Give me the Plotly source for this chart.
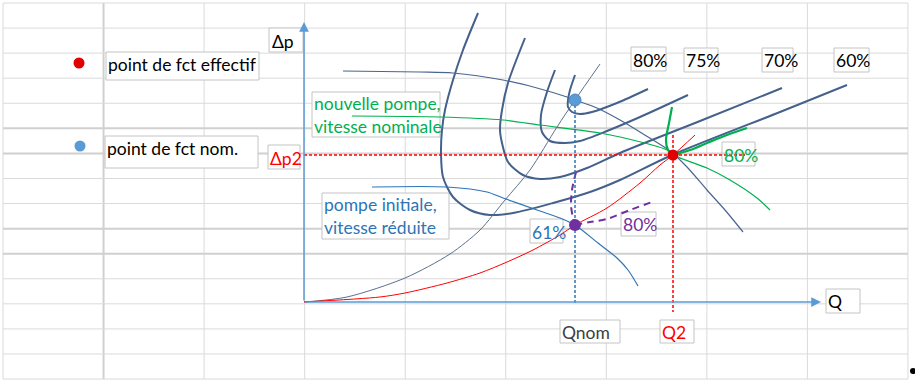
import plotly.graph_objects as go

# ---------------- data (diagram units: Q to the right, dp upwards, origin at axes crossing)
# efficiency iso-curves of the pump family
iso60_q  = [174,159,149,141,138,137,139,149,166,186,209,249,286,316,368,476,543]
iso60_dp = [289,252,222,192,172,149,125,105,92,87,89,99,110,122,147,190,217]
iso70_q  = [221,204,198,196,198,204,219,236,256,283,316,396,478]
iso70_dp = [264,219,192,172,159,140,127,123,125,134,149,181,214]
iso75_q  = [251,243,237,238,246,261,276,303,336,384]
iso75_dp = [232,210,187,170,161,159,161,171,185,207]
iso80_q  = [271,266,264,264,268,276,288,313,344]
iso80_dp = [227,212,202,195,190,188,190,199,213]
iso_labels = ["80%", "75%", "70%", "60%"]

# pump characteristic curves
pump_nom_q  = [39,116,149,199,233,263,271,293,316,336,366,383,403,421,439]
pump_nom_dp = [231,230,229,222,214,205,202,194,182,170,151,135,112,92,70]
pump_new_q  = [48,136,199,236,296,316,363,369,403,426,453,466]
pump_new_dp = [186,185,182,177,169,165,152,147,134,122,104,92]
pump_red_q  = [68,143,183,199,233,256,271,294,313,324,334]
pump_red_dp = [115,115,110,104,92,84,77,59,44,32,16]

# system (network) curves
sys_nom_q  = [0,43,101,146,176,201,226,253,271,296]
sys_nom_dp = [0,5,24,48,72,102,132,175,202,238]
sys_eff_q  = [0,76,101,143,176,203,229,256,271,303,336,356,369,391]
sys_eff_dp = [0,5,9,19,29,40,52,67,77,94,119,137,147,167]

# local 80 % iso-efficiency pieces
iso80_red_up_q  = [272,268,267,269,271]
iso80_red_up_dp = [130,112,97,84,77]
iso80_red_rt_q  = [271,286,303,326,348]
iso80_red_rt_dp = [77,80,83,92,100]
iso80_new_a_q  = [368,365,362,364,369]
iso80_new_a_dp = [195,179,162,152,147]
iso80_new_b_q  = [369,386,403,423,443]
iso80_new_b_dp = [147,152,159,167,174]

# operating points
pt_nom = (271, 202)    # nominal point
pt_red = (271, 77)     # initial pump, reduced speed
pt_eff = (369, 147)    # effective point (Q2, dp2)

# ---------------- helpers: screen pixel -> diagram units (1 unit = 1 px)
OX, OY = 304, 302
def X(px): return px - OX
def Y(py): return OY - py

FONT = "Lato"
FS = 17.5
SLATE = "#44618c"
fig = go.Figure()

def curve(q, dp, color, width, dash=None, smooth=0.8):
    fig.add_trace(go.Scatter(x=q, y=dp, mode="lines", hoverinfo="skip",
                             line=dict(color=color, width=width, dash=dash,
                                       shape="spline", smoothing=smooth)))

# iso curves
for q, dp in [(iso60_q, iso60_dp), (iso70_q, iso70_dp), (iso75_q, iso75_dp), (iso80_q, iso80_dp)]:
    curve(q, dp, SLATE, 2)
# system curves
curve(sys_nom_q, sys_nom_dp, "#5b7090", 1)
curve(sys_eff_q, sys_eff_dp, "#ff0000", 1)
# pump curves
curve(pump_nom_q, pump_nom_dp, "#4a6590", 1.2)
curve(pump_new_q, pump_new_dp, "#00b050", 1.2)
curve(pump_red_q, pump_red_dp, "#2e75b6", 1.2)
# local iso pieces
curve(iso80_red_up_q, iso80_red_up_dp, "#7030a0", 2, dash="7px,5px")
curve(iso80_red_rt_q, iso80_red_rt_dp, "#7030a0", 2, dash="7px,5px")
curve(iso80_new_a_q, iso80_new_a_dp, "#00b050", 2.2)
curve(iso80_new_b_q, iso80_new_b_dp, "#00b050", 2.2)

# guide lines
fig.add_trace(go.Scatter(x=[pt_nom[0], pt_nom[0]], y=[pt_nom[1], Y(305)], mode="lines",
                         hoverinfo="skip", line=dict(color="#2e75b6", width=1.5, dash="3px,2px")))
fig.add_trace(go.Scatter(x=[pt_eff[0], pt_eff[0]], y=[Y(135), Y(312)], mode="lines",
                         hoverinfo="skip", line=dict(color="#ff0000", width=1.5, dash="3px,2px")))
fig.add_trace(go.Scatter(x=[0, X(745)], y=[pt_eff[1], pt_eff[1]], mode="lines",
                         hoverinfo="skip", line=dict(color="#ff0000", width=1.5, dash="3px,2px")))

# operating points
fig.add_trace(go.Scatter(x=[pt_nom[0]], y=[pt_nom[1]], mode="markers", hoverinfo="skip",
                         marker=dict(color="#5b9bd5", size=12, line=dict(color="#4a86c0", width=1))))
fig.add_trace(go.Scatter(x=[pt_red[0]], y=[pt_red[1]], mode="markers", hoverinfo="skip",
                         marker=dict(color="#7030a0", size=12)))
fig.add_trace(go.Scatter(x=[pt_eff[0]], y=[pt_eff[1]], mode="markers", hoverinfo="skip",
                         marker=dict(color="#e00000", size=11)))
# legend dots
fig.add_trace(go.Scatter(x=[X(79)], y=[Y(63)], mode="markers", hoverinfo="skip",
                         marker=dict(color="#e00000", size=11)))
fig.add_trace(go.Scatter(x=[X(80)], y=[Y(146)], mode="markers", hoverinfo="skip",
                         marker=dict(color="#5b9bd5", size=11)))
fig.add_trace(go.Scatter(x=[X(913)], y=[Y(371)], mode="markers", hoverinfo="skip",
                         marker=dict(color="#000000", size=6)))

shapes = []
# spreadsheet grid
thick_rows = {5, 6, 9, 10}
for i in range(10):
    xp = 3 + 100.55 * i
    shapes.append(dict(type="line", layer="below", x0=X(xp), x1=X(xp), y0=Y(3), y1=Y(379),
                       line=dict(color="#d0d0d0" if i == 1 else "#dadada", width=2 if i == 1 else 1)))
for j in range(16):
    yp = 3 + 25.07 * j
    shapes.append(dict(type="line", layer="below", x0=X(3), x1=X(908), y0=Y(yp), y1=Y(yp),
                       line=dict(color="#d0d0d0" if j in thick_rows else "#dadada",
                                 width=2 if j in thick_rows else 1)))

# text boxes: (x0, y0, x1, y1, text, color, text_left, text_center_y)
boxes = [
    (269, 28, 303, 52, "Δp", "#000000", 271, 41),
    (106, 52, 259, 80, "point de fct effectif", "#000000", 107, 64),
    (105, 136, 258, 168, "point de fct nom.", "#000000", 106, 148),
    (268, 145, 300, 169, "Δp2", "#ff0000", 269, 158),
    (312, 92, 440, 137, "nouvelle pompe,<br>vitesse nominale", "#00b050", 313, 115),
    (322, 193, 449, 239, "pompe initiale,<br>vitesse réduite", "#2e75b6", 323, 216),
    (530, 219, 563, 243, "61%", "#2e75b6", 531, 232),
    (621, 212, 656, 236, "80%", "#7030a0", 622, 224),
    (722, 142, 755, 166, "80%", "#00b050", 723, 155),
    (631, 47, 666, 71, iso_labels[0], "#000000", 632, 60),
    (684, 48, 718, 72, iso_labels[1], "#000000", 685, 60),
    (762, 48, 793, 72, iso_labels[2], "#000000", 763, 60),
    (834, 48, 869, 72, iso_labels[3], "#000000", 835, 60),
    (826, 289, 860, 313, "Q", "#000000", 827, 301),
    (560, 320, 620, 343, "Qnom", "#404040", 561, 332),
    (660, 320, 694, 343, "Q2", "#ff0000", 661, 332),
]
annotations = []
for x0, y0, x1, y1, txt, col, tl, tc in boxes:
    shapes.append(dict(type="rect", layer="below", x0=X(x0), x1=X(x1), y0=Y(y0), y1=Y(y1),
                       fillcolor="rgba(255,255,255,0)" if txt == "80%" and col == "#00b050" else "white",
                       line=dict(color="#c4c4c4", width=1)))
    annotations.append(dict(x=X(tl), y=Y(tc), xref="x", yref="y", text=txt, showarrow=False,
                            xanchor="left", yanchor="middle", align="left", borderpad=0,
                            font=dict(family=FONT, size=FS, color=col)))

# axes with arrows
annotations.append(dict(x=0, y=Y(22), ax=0, ay=0, xref="x", yref="y", axref="x", ayref="y",
                        text="", showarrow=True, arrowhead=2, arrowsize=1.3, arrowwidth=1.5,
                        arrowcolor="#5b9bd5", standoff=0))
annotations.append(dict(x=X(821), y=0, ax=0, ay=0, xref="x", yref="y", axref="x", ayref="y",
                        text="", showarrow=True, arrowhead=2, arrowsize=1.3, arrowwidth=1.5,
                        arrowcolor="#5b9bd5", standoff=0))

fig.update_layout(
    width=915, height=386, margin=dict(l=0, r=0, t=0, b=0),
    paper_bgcolor="white", plot_bgcolor="white", showlegend=False,
    shapes=shapes, annotations=annotations,
    xaxis=dict(range=[X(0), X(915)], visible=False, fixedrange=True),
    yaxis=dict(range=[Y(386), Y(0)], visible=False, fixedrange=True),
)
fig.write_html("out.html", config={"displayModeBar": False},
               post_script="document.body.style.margin='0';document.body.style.overflow='hidden';")
